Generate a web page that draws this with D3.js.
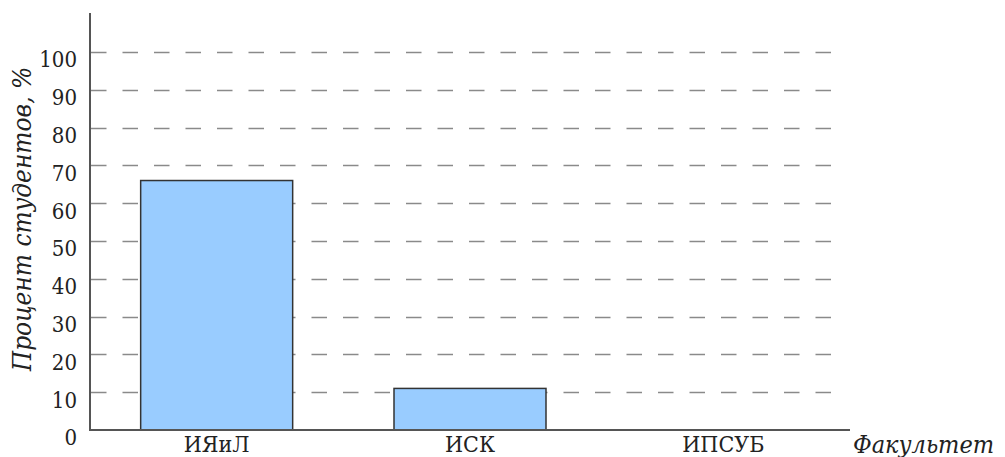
<!DOCTYPE html>
<html><head><meta charset="utf-8">
<script src="https://cdn.jsdelivr.net/npm/d3@7"></script>
<style>body{margin:0;background:#fff;} svg text{font-family:"DejaVu Serif Condensed","DejaVu Serif",serif;font-stretch:condensed;}</style>
</head><body>
<svg id="c" width="1005" height="457"></svg>
<script>
const categories = ["ИЯиЛ", "ИСК", "ИПСУБ"];
const values = [66, 11, 0];
const yTicks = [0, 10, 20, 30, 40, 50, 60, 70, 80, 90, 100];
const yTitle = "Процент студентов, %";
const xTitle = "Факультет";

const svg = d3.select("#c");
const x0 = 90, x1 = 850, yBase = 430, yTop = 13;
const x = d3.scaleBand().domain(categories).range([x0, x1]).paddingInner(0.4).paddingOuter(0.2);
const y = d3.scaleLinear().domain([0, 100]).range([yBase, 52]);

// grid
svg.append("g").selectAll("line").data(yTicks.filter(d => d > 0)).join("line")
  .attr("x1", x0 + 1).attr("x2", 844)
  .attr("y1", d => Math.round(y(d)) + 0.5).attr("y2", d => Math.round(y(d)) + 0.5)
  .attr("stroke", "#8a8a8a").attr("stroke-width", 1.5)
  .attr("stroke-dasharray", "15.5,16");

// bars
svg.append("g").selectAll("rect").data(values.map((v, i) => ({c: categories[i], v}))).join("rect")
  .filter(d => d.v > 0)
  .attr("x", d => x(d.c)).attr("width", x.bandwidth())
  .attr("y", d => y(d.v)).attr("height", d => yBase - y(d.v))
  .attr("fill", "#99ccff").attr("stroke", "#333").attr("stroke-width", 1.5);

// axes
const yAxis = d3.axisLeft(y).tickValues(yTicks).tickSize(0).tickPadding(13);
const gy = svg.append("g").attr("transform", `translate(${x0},0)`).call(yAxis);
gy.select(".domain").remove();
gy.selectAll("text").attr("font-size", 22).attr("fill", "#222").attr("dy", "0.68em");

const xAxis = d3.axisBottom(x).tickSize(0).tickPadding(6);
const gx = svg.append("g").attr("transform", `translate(0,${yBase})`).call(xAxis);
gx.select(".domain").remove();
gx.selectAll("text").attr("font-size", 23).attr("fill", "#222");

svg.append("line").attr("x1", x0).attr("x2", x0).attr("y1", yTop).attr("y2", yBase + 1)
  .attr("stroke", "#555").attr("stroke-width", 2);
svg.append("line").attr("x1", x0).attr("x2", x1).attr("y1", yBase).attr("y2", yBase)
  .attr("stroke", "#555").attr("stroke-width", 2);

svg.append("text").attr("transform", `translate(31,${(60+378)/2}) rotate(-90)`)
  .attr("text-anchor", "middle").attr("font-style", "italic").attr("font-size", 26).attr("fill", "#222")
  .text(yTitle);
svg.append("text").attr("x", 853).attr("y", 453)
  .attr("font-style", "italic").attr("font-size", 25).attr("fill", "#222").text(xTitle);
</script>
</body></html>
